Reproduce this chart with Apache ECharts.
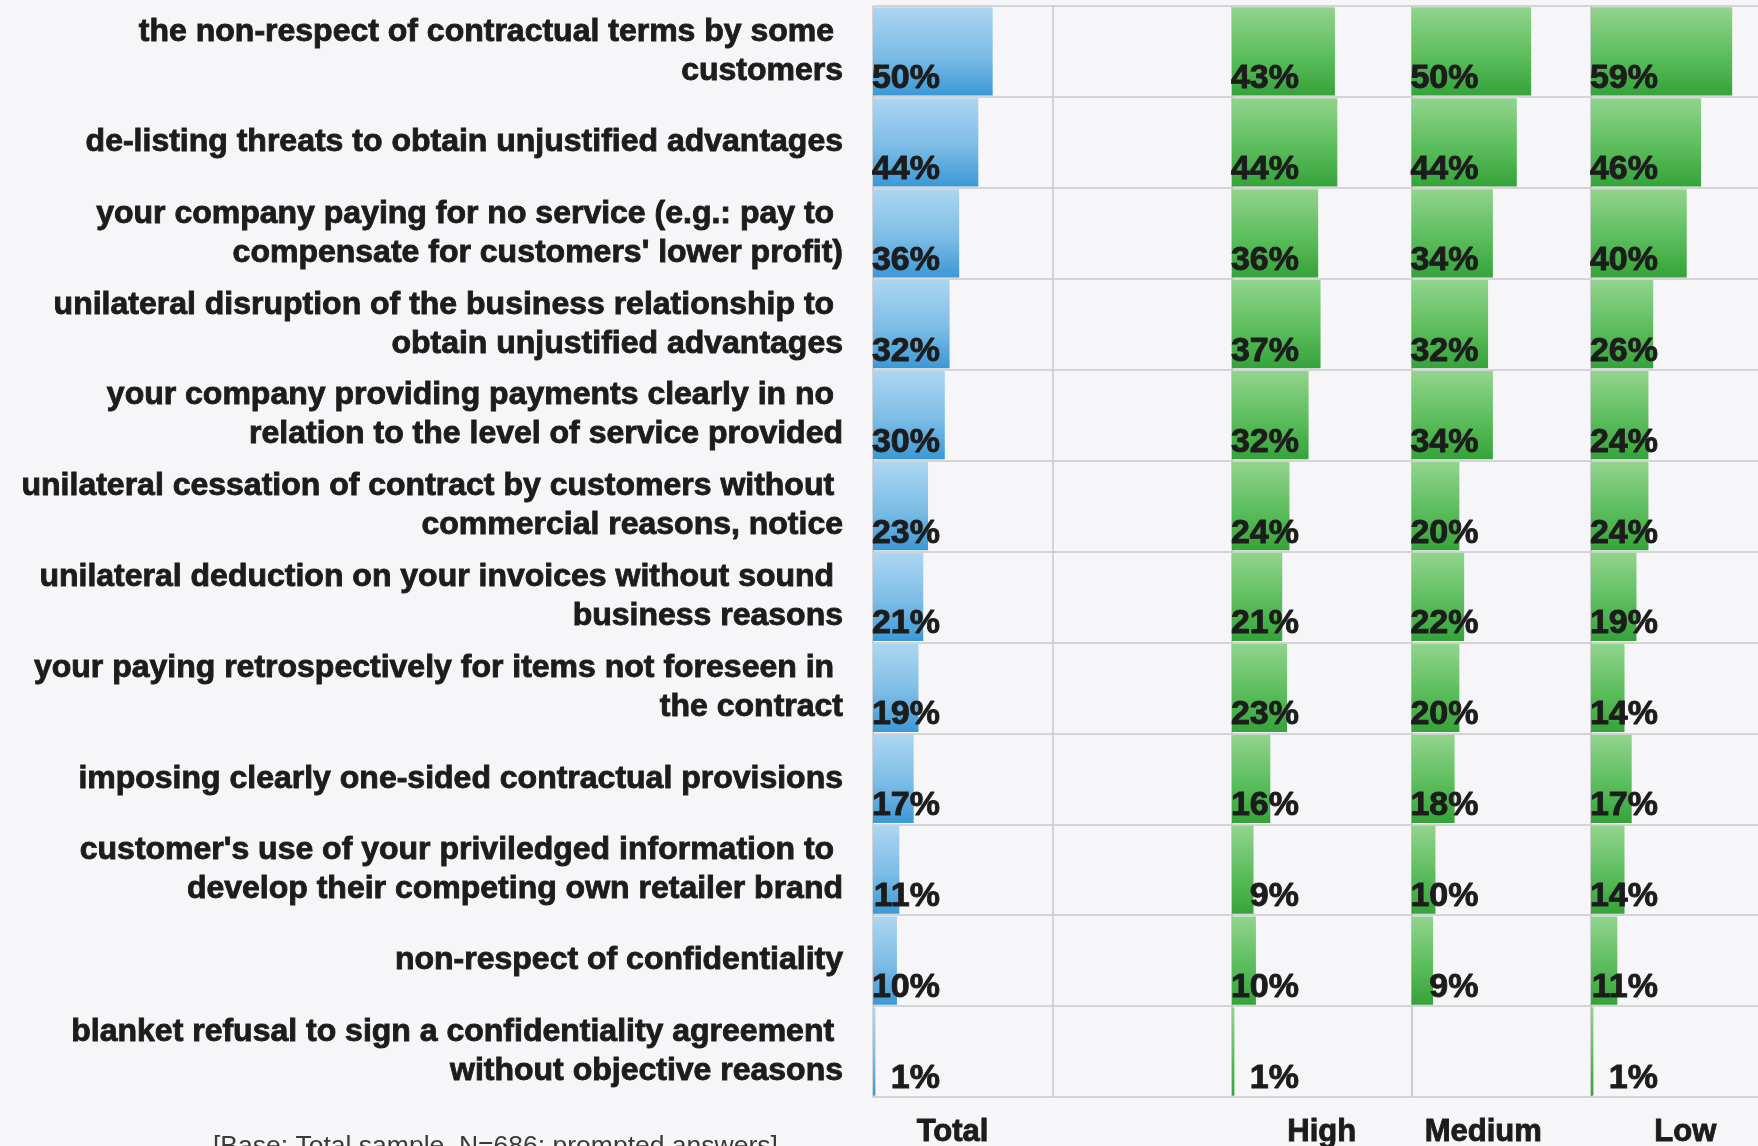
<!DOCTYPE html>
<html>
<head>
<meta charset="utf-8">
<title>Unfair trading practices experienced</title>
<script src="https://cdn.jsdelivr.net/npm/echarts@6/dist/echarts.min.js"></script>
<style>
  html, body { margin: 0; padding: 0; background: #f6f6f8; }
  #chart { width: 1758px; height: 1146px; }
</style>
</head>
<body>
<div id="chart"></div>
<script>
// Practices, top to bottom
const categories = [
  "the non-respect of contractual terms by some \ncustomers",
  "de-listing threats to obtain unjustified advantages",
  "your company paying for no service (e.g.: pay to \ncompensate for customers' lower profit)",
  "unilateral disruption of the business relationship to \nobtain unjustified advantages",
  "your company providing payments clearly in no \nrelation to the level of service provided",
  "unilateral cessation of contract by customers without \ncommercial reasons, notice",
  "unilateral deduction on your invoices without sound \nbusiness reasons",
  "your paying retrospectively for items not foreseen in \nthe contract",
  "imposing clearly one-sided contractual provisions",
  "customer's use of your priviledged information to \ndevelop their competing own retailer brand",
  "non-respect of confidentiality",
  "blanket refusal to sign a confidentiality agreement \nwithout objective reasons"
];

// Share of respondents (%)
const totalValues  = [50, 44, 36, 32, 30, 23, 21, 19, 17, 11, 10, 1];
const highValues   = [43, 44, 36, 37, 32, 24, 21, 23, 16, 9, 10, 1];
const mediumValues = [50, 44, 34, 32, 34, 20, 22, 20, 18, 10, 9, null];
const lowValues    = [59, 46, 40, 26, 24, 24, 19, 14, 17, 14, 11, 1];

const panelNames = ["Total", "High", "Medium", "Low"];
const footnote = "[Base: Total sample, N=686; prompted answers]";

const FONT = "'Liberation Sans', Arial, Helvetica, sans-serif";
const TEXT = "#1c1c1c";
const GRID_LINE = "#c9c9cd";

// heavy print look for the bold texts
const heavy = { textBorderColor: TEXT, textBorderWidth: 0.9 };

const blueFill = new echarts.graphic.LinearGradient(0, 0, 0, 1, [
  { offset: 0, color: "#acd6f1" },
  { offset: 0.55, color: "#7cbce6" },
  { offset: 1, color: "#3b98d5" }
]);
const greenFill = new echarts.graphic.LinearGradient(0, 0, 0, 1, [
  { offset: 0, color: "#92d48e" },
  { offset: 0.55, color: "#5cbd5c" },
  { offset: 1, color: "#35a33a" }
]);

const plotTop = 6, plotHeight = 1091;
const grids = [
  { left: 873, top: plotTop, width: 359, height: plotHeight },
  { left: 1232, top: plotTop, width: 179.5, height: plotHeight },
  { left: 1411.5, top: plotTop, width: 179.5, height: plotHeight },
  { left: 1591, top: plotTop, width: 179.5, height: plotHeight }
].map(g => Object.assign(g, { containLabel: false, outerBoundsMode: "none" }));

const nameShift = [
  [0, 200, 0, 0],
  [0, 0, 0, 0],
  [0, 36, 0, 0],
  [0, 0, 0, 9]
];

const xAxes = grids.map((g, i) => ({
  type: "value",
  gridIndex: i,
  min: 0,
  max: i === 0 ? 150 : 75,
  interval: 75,
  axisLine: { show: false },
  axisTick: { show: false },
  axisLabel: { show: false },
  splitLine: { show: true, lineStyle: { color: GRID_LINE, width: 1.5 } },
  name: panelNames[i],
  nameLocation: "middle",
  nameGap: 20,
  nameTextStyle: Object.assign({
    fontFamily: FONT, fontSize: 31, fontWeight: "bold", color: TEXT,
    padding: nameShift[i]
  }, heavy)
}));

const yAxes = grids.map((g, i) => ({
  type: "category",
  gridIndex: i,
  data: categories,
  inverse: true,
  axisLine: { show: false },
  axisTick: { show: false },
  splitLine: { show: true, lineStyle: { color: GRID_LINE, width: 1.5 } },
  axisLabel: i === 0 ? Object.assign({
    show: true,
    margin: 30,
    fontFamily: FONT, fontSize: 32, fontWeight: "bold", color: TEXT,
    lineHeight: 39, align: "right",
    padding: [0, 0, 10, 0]
  }, heavy) : { show: false }
}));

function barSeries(values, idx, fill) {
  return {
    type: "bar",
    xAxisIndex: idx,
    yAxisIndex: idx,
    data: values,
    barCategoryGap: "3%",
    itemStyle: { color: fill },
    label: Object.assign({
      show: true,
      position: [67, "100%"],
      align: "right",
      verticalAlign: "bottom",
      formatter: "{c}%",
      fontFamily: FONT, fontSize: 34, fontWeight: "bold", color: TEXT
    }, heavy)
  };
}

const chart = echarts.init(document.getElementById("chart"), null, { renderer: "canvas" });
chart.setOption({
  backgroundColor: "#f6f6f8",
  animation: false,
  grid: grids,
  xAxis: xAxes,
  yAxis: yAxes,
  series: [
    barSeries(totalValues, 0, blueFill),
    barSeries(highValues, 1, greenFill),
    barSeries(mediumValues, 2, greenFill),
    barSeries(lowValues, 3, greenFill)
  ],
  graphic: [{
    type: "text",
    left: 213,
    top: 1133,
    style: { text: footnote, fontFamily: FONT, fontSize: 26.5, fill: "#3a3a3a" }
  }]
});
</script>
</body>
</html>
